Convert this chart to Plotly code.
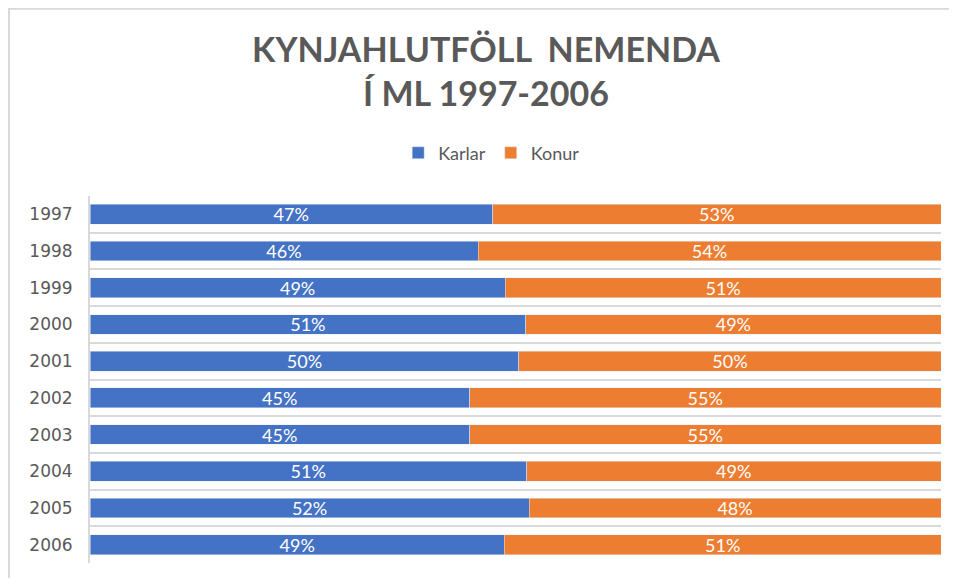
import plotly.graph_objects as go

# ── Data ───────────────────────────────────────────────────
YEARS = ["1997", "1998", "1999", "2000", "2001",
         "2002", "2003", "2004", "2005", "2006"]
KARLAR = [47.3, 45.6, 48.8, 51.2, 50.4, 44.6, 44.6, 51.3, 51.6, 48.7]
KONUR = [52.7, 54.4, 51.2, 48.8, 49.6, 55.4, 55.4, 48.7, 48.4, 51.3]

TITLE = "KYNJAHLUTFÖLL  NEMENDA<br>Í ML 1997-2006"

# ── Styling ────────────────────────────────────────────────
BLUE = "#4472C4"
ORANGE = "#ED7D31"
GREY_TEXT = "#595959"
GRID = "#D9D9D9"
FONT = "Lato, 'Open Sans', sans-serif"

fig = go.Figure()
for name, vals, color in [("Karlar", KARLAR, BLUE), ("Konur", KONUR, ORANGE)]:
    fig.add_trace(go.Bar(
        name=name, y=YEARS, x=vals, orientation="h",
        marker_color=color,
        texttemplate="%{x:.0f}%", textposition="inside",
        insidetextanchor="middle", constraintext="none",
        textfont=dict(color="white", size=18, family=FONT),
    ))

# page body has an 8px margin, so the figure is sized to fit inside it
fig.update_layout(
    width=941, height=570,
    margin=dict(l=82, r=8, t=188, b=15, autoexpand=False),
    barmode="stack", bargap=0.46,
    plot_bgcolor="white", paper_bgcolor="white",
    font=dict(family=FONT, color=GREY_TEXT),
    title=dict(
        text=TITLE, x=0.508, xanchor="center",
        y=0.906, yanchor="top",
        font=dict(size=34, color=GREY_TEXT, family=FONT, weight="bold"),
    ),
    legend=dict(
        orientation="h", x=0.472, xanchor="center",
        y=1.117, yanchor="middle",
        font=dict(size=18, color=GREY_TEXT),
        itemwidth=30, traceorder="normal",
    ),
)
fig.update_xaxes(range=[0, 100], visible=False, fixedrange=True)
fig.update_yaxes(
    type="category", autorange="reversed", automargin=False,
    tickson="boundaries", ticks="",
    showgrid=True, gridcolor=GRID, gridwidth=2,
    showline=True, linecolor=GRID, linewidth=2,
    ticklabelstandoff=12,
    tickfont=dict(size=17, color=GREY_TEXT, family="DejaVu Sans"),
)

# outer chart border (Excel style)
fig.add_shape(
    type="rect", xref="paper", yref="paper",
    x0=-0.0952, x1=1.05, y0=-0.2, y1=1.51,
    line=dict(color=GRID, width=2), fillcolor="rgba(0,0,0,0)",
    layer="below",
)

fig.write_html("out.html")
